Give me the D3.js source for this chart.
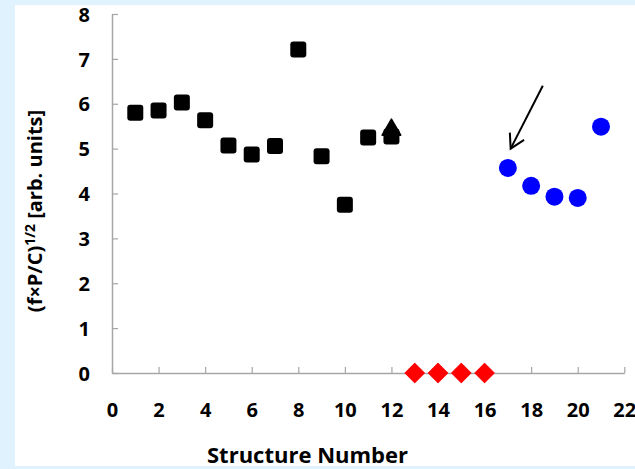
<!DOCTYPE html>
<html>
<head>
<meta charset="utf-8">
<script src="https://cdn.jsdelivr.net/npm/d3@7"></script>
<style>
  html, body { margin: 0; padding: 0; background: #e0f2fe; }
  svg { display: block; }
  .tick text { font-family: "Open Sans", sans-serif; font-weight: bold; font-size: 20px; fill: #000; }
</style>
</head>
<body>
<div id="chart"></div>
<script>
// Structure numbers 1-12 (black squares)
const squareX = [1, 2, 3, 4, 5, 6, 7, 8, 9, 10, 11, 12];
const squareY = [5.80, 5.85, 6.03, 5.63, 5.07, 4.87, 5.06, 7.21, 4.83, 3.75, 5.25, 5.27];
// single triangle at structure 12
const triangleX = [12];
const triangleY = [5.42];
// red diamonds on zero line
const diamondX = [13, 14, 15, 16];
const diamondY = [0, 0, 0, 0];
// blue circles
const circleX = [17, 18, 19, 20, 21];
const circleY = [4.57, 4.17, 3.93, 3.90, 5.49];
// arrow annotation (data coords)
const arrowFrom = [18.5, 6.4];
const arrowTo = [17.12, 5.0];

const xTicks = [0, 2, 4, 6, 8, 10, 12, 14, 16, 18, 20, 22];
const yTicks = [0, 1, 2, 3, 4, 5, 6, 7, 8];

const W = 635, H = 469;
const svg = d3.select("#chart").append("svg")
    .attr("width", W)
    .attr("height", H);

// white panel
svg.append("rect")
    .attr("x", 15).attr("y", 5)
    .attr("width", W - 15).attr("height", 461)
    .attr("fill", "#fff");

const x = d3.scaleLinear().domain([0, 22]).range([112, 624.3]);
const y = d3.scaleLinear().domain([0, 8]).range([373, 14]);

const axisColor = "#a6a6a6";

const gx = svg.append("g")
    .attr("transform", `translate(0,${y(0)})`)
    .call(d3.axisBottom(x).tickValues(xTicks).tickSizeInner(-6).tickSizeOuter(0).tickPadding(29.5));
const gy = svg.append("g")
    .attr("transform", `translate(${x(0)},0)`)
    .call(d3.axisLeft(y).tickValues(yTicks).tickSizeInner(-6).tickSizeOuter(0).tickPadding(22));

[gx, gy].forEach(g => {
    g.select(".domain").attr("stroke", axisColor).attr("stroke-width", 1.5);
    g.selectAll(".tick line").attr("stroke", axisColor).attr("stroke-width", 1.2);
});
gy.selectAll(".tick text").attr("dy", "0.36em");

// axis titles
svg.append("text")
    .attr("x", 307.5)
    .attr("y", 462.5)
    .attr("text-anchor", "middle")
    .style("font-family", "'Open Sans', sans-serif")
    .style("font-weight", "bold")
    .style("font-size", "22px")
    .text("Structure Number");

const yt = svg.append("text")
    .attr("transform", "translate(42,211) rotate(-90)")
    .attr("text-anchor", "middle")
    .style("font-family", "'Open Sans', sans-serif")
    .style("font-weight", "bold")
    .style("font-size", "20px");
yt.append("tspan").text("(f×P/C)");
yt.append("tspan").attr("dy", -7).style("font-size", "14px").text("1/2");
yt.append("tspan").attr("dy", 7).text(" [arb. units]");

// squares
const sq = 16;
svg.selectAll(".sq")
    .data(squareX.map((d, i) => [d, squareY[i]]))
    .enter().append("rect")
    .attr("class", "sq")
    .attr("x", d => x(d[0]) - sq / 2)
    .attr("y", d => y(d[1]) - sq / 2)
    .attr("width", sq).attr("height", sq)
    .attr("rx", 3)
    .attr("fill", "#000");

// triangle
svg.selectAll(".tri")
    .data(triangleX.map((d, i) => [d, triangleY[i]]))
    .enter().append("path")
    .attr("class", "tri")
    .attr("d", d3.symbol().type(d3.symbolTriangle).size(150))
    .attr("transform", d => `translate(${x(d[0])},${y(d[1])})`)
    .attr("fill", "#000")
    .attr("stroke", "#000")
    .attr("stroke-width", 1.5)
    .attr("stroke-linejoin", "round");

// diamonds
svg.selectAll(".dia")
    .data(diamondX.map((d, i) => [d, diamondY[i]]))
    .enter().append("path")
    .attr("class", "dia")
    .attr("d", d3.symbol().type(d3.symbolSquare).size(190))
    .attr("transform", d => `translate(${x(d[0])},${y(d[1])}) rotate(45)`)
    .attr("fill", "#ff0000")
    .attr("stroke", "#ff0000")
    .attr("stroke-linejoin", "round");

// circles
svg.selectAll(".dot")
    .data(circleX.map((d, i) => [d, circleY[i]]))
    .enter().append("circle")
    .attr("class", "dot")
    .attr("cx", d => x(d[0]))
    .attr("cy", d => y(d[1]))
    .attr("r", 9)
    .attr("fill", "#0000ff");

// arrow
const x1 = x(arrowFrom[0]), y1 = y(arrowFrom[1]);
const x2 = x(arrowTo[0]), y2 = y(arrowTo[1]);
const ang = Math.atan2(y2 - y1, x2 - x1);
const hl = 16, ha = Math.PI / 6;
svg.append("line")
    .attr("x1", x1).attr("y1", y1).attr("x2", x2).attr("y2", y2)
    .attr("stroke", "#000").attr("stroke-width", 2);
svg.append("path")
    .attr("d", `M${x2 - hl * Math.cos(ang - ha)},${y2 - hl * Math.sin(ang - ha)}L${x2},${y2}L${x2 - hl * Math.cos(ang + ha)},${y2 - hl * Math.sin(ang + ha)}`)
    .attr("fill", "none")
    .attr("stroke", "#000")
    .attr("stroke-width", 2);
</script>
</body>
</html>
